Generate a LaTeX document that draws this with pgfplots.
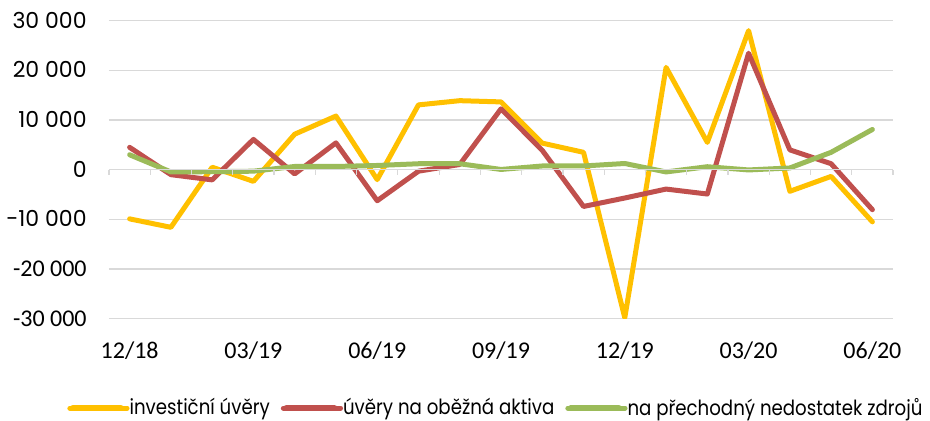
\documentclass[border=0pt]{standalone}
\usepackage{pgfplots}
\pgfplotsset{compat=1.18}
\usepackage{fontspec}
\setmainfont{Carlito}
\newfontfamily\futura{Poppins}
\newfontfamily\legfont[FakeStretch=0.87]{Poppins}
\definecolor{cy}{HTML}{FFC000}
\definecolor{cr}{HTML}{C0504D}
\definecolor{cg}{HTML}{9BBB59}
\definecolor{gridc}{HTML}{D9D9D9}
\begin{document}
\begin{tikzpicture}
\begin{axis}[
  at={(0pt,0pt)}, anchor=south west,
  scale only axis, width=392pt, height=149pt,
  xmin=-0.5, xmax=18.5, ymin=-30000, ymax=30000,
  scaled y ticks=false,
  axis line style={draw=none},
  xtick={0,3,6,9,12,15,18},
  xticklabels={12/18,03/19,06/19,09/19,12/19,03/20,06/20},
  ytick={-30000,-20000,-10000,0,10000,20000,30000},
  yticklabels={{\fontsize{12pt}{14pt}\selectfont -30 000},{\fontsize{12pt}{14pt}\selectfont -20 000},{\futura -10 000},{\futura 0},{\futura 10 000},{\futura 20 000},{\futura 30 000}},
  major tick length=0pt,
  ymajorgrids, grid style={gridc, line width=0.6pt},
  yticklabel style={anchor=base east, inner sep=0pt, xshift=-11pt, yshift=-3.8pt, font=\fontsize{11pt}{13pt}\selectfont},
  xticklabel style={anchor=base, inner sep=0pt, yshift=-19.8pt, font=\fontsize{12pt}{14pt}\selectfont},
  legend columns=3,
  legend style={draw=none, fill=none, inner sep=0pt, at={(axis description cs:-0.0536,-0.2997)}, anchor=west,
    font=\legfont\fontsize{10.45pt}{12pt}\selectfont, column sep=0pt,
    nodes={inner sep=0pt},
    /tikz/every even column/.append style={column sep=5.5pt}},
  legend image code/.code={\draw[#1, line width=3pt, line cap=round] (1.5pt,0pt) -- (25.5pt,0pt); \path (0pt,0pt) -- (28.6pt,0pt);},
  every axis plot/.append style={line width=2.5pt, line cap=round, line join=round, mark=none},
]
\addplot[cy] coordinates {(0,-9900)(1,-11600)(2,500)(3,-2350)(4,7150)(5,10800)(6,-2000)(7,13050)(8,13900)(9,13650)(10,5350)(11,3500)(12,-29800)(13,20600)(14,5500)(15,28000)(16,-4350)(17,-1350)(18,-10500)};
\addlegendentry{investiční úvěry}
\addplot[cr] coordinates {(0,4500)(1,-1000)(2,-2050)(3,6100)(4,-850)(5,5400)(6,-6250)(7,-300)(8,1050)(9,12250)(10,3900)(11,-7400)(12,-5700)(13,-3900)(14,-4900)(15,23450)(16,4000)(17,1200)(18,-8050)};
\addlegendentry{úvěry na oběžná aktiva}
\addplot[cg] coordinates {(0,3000)(1,-450)(2,-400)(3,-300)(4,650)(5,650)(6,850)(7,1200)(8,1200)(9,50)(10,750)(11,750)(12,1250)(13,-450)(14,600)(15,-50)(16,350)(17,3500)(18,8100)};
\addlegendentry{na přechodný nedostatek zdrojů}
\end{axis}
\begin{axis}[
  at={(0pt,0pt)}, anchor=south west,
  scale only axis, width=392pt, height=149pt,
  xmin=-0.5, xmax=18.5, ymin=-30000, ymax=30000,
  axis x line=middle, axis y line=none,
  x axis line style={gridc, line width=0.6pt, -},
  xtick={-0.5,0.5,...,18.5}, xticklabels={},
  tick align=outside, major tick length=2.5pt,
  every tick/.style={gridc, line width=0.6pt},
  ytick=\empty,
]
\end{axis}
\pgfresetboundingbox
\useasboundingbox (-54.5pt,-51.15pt) rectangle (410.5pt,159.35pt);
\end{tikzpicture}
\end{document}
